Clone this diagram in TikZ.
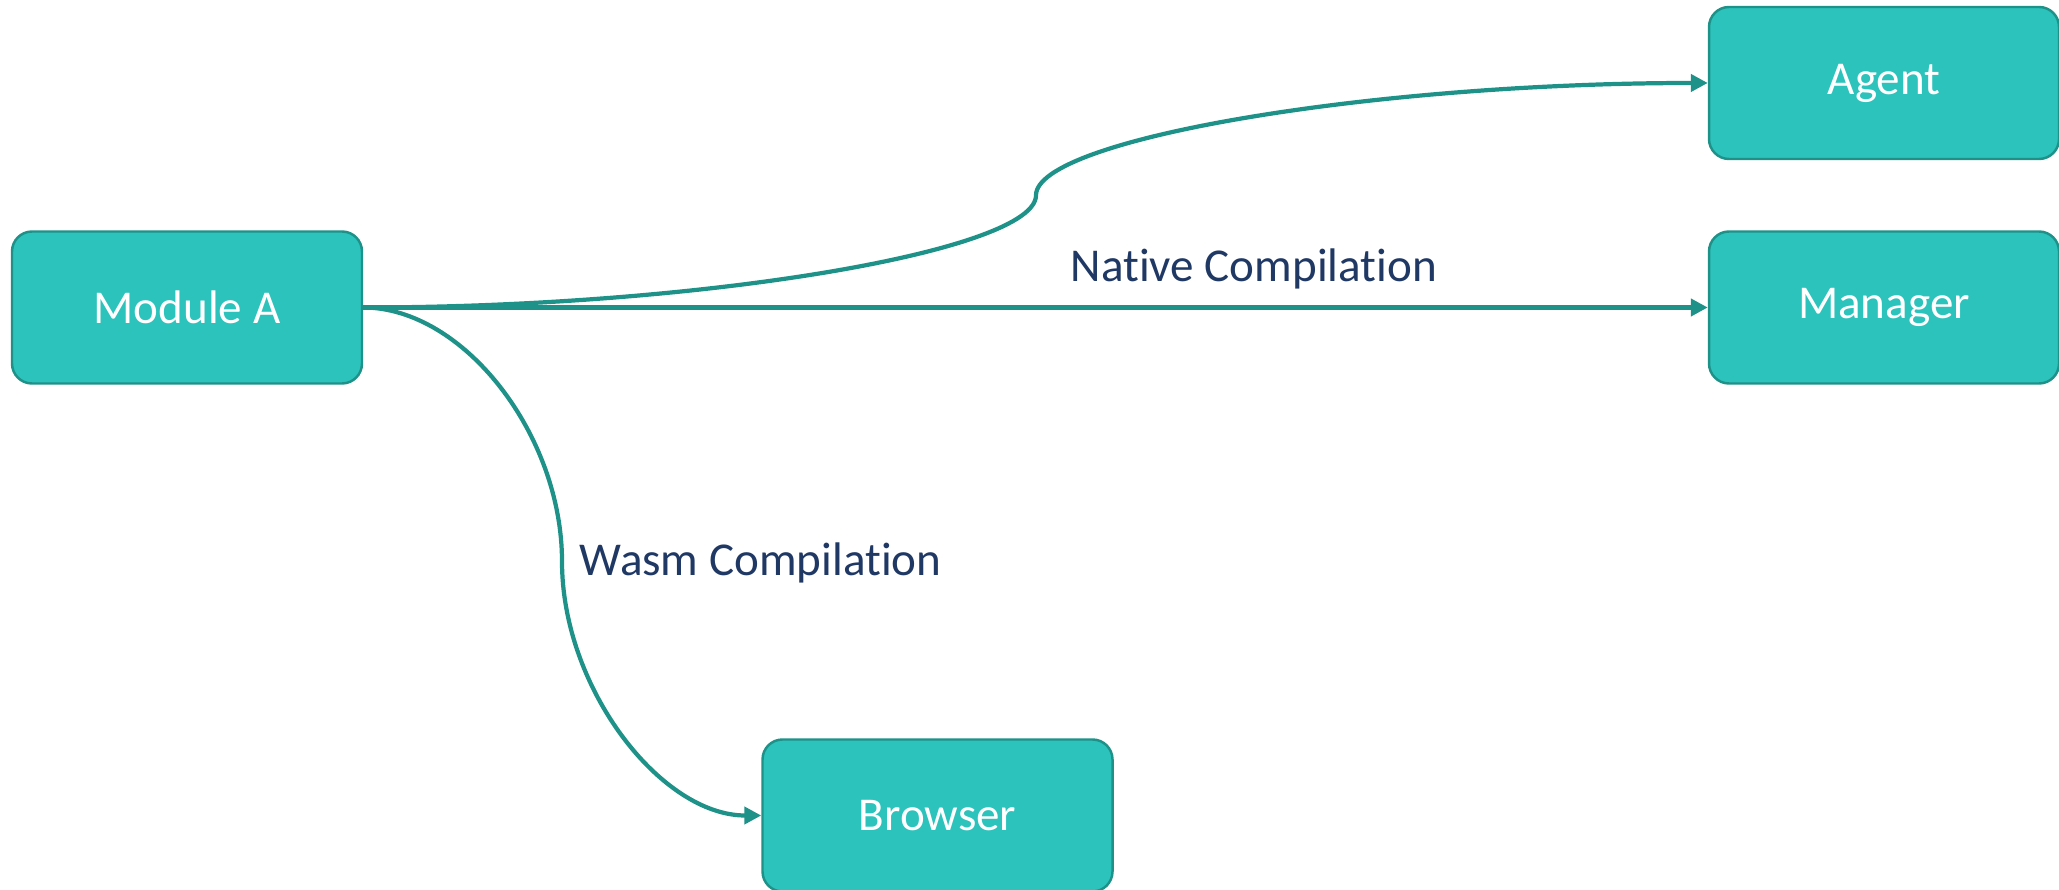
\documentclass[tikz,border=0pt]{standalone}
\usepackage{fontspec}
\setmainfont{Carlito}[RawFeature={-liga;-clig;-calt;-dlig}]
\usepackage{xcolor}
\usepackage{tikz}
\usetikzlibrary{
  arrows.meta,
  positioning
}
\definecolor{TealFill}{RGB}{43, 195, 188}
\definecolor{TealLine}{RGB}{30, 145, 137}
\definecolor{NavyText}{RGB}{31, 56, 100}
\tikzset{
    box/.style={rectangle, fill=TealFill, draw=TealLine, line width=0.7pt, rounded corners=0.2cm,
        minimum width=3.5cm, minimum height=1.52cm, inner sep=0pt, text=white,
        font=\fontsize{13.4}{16}\selectfont},
    conn/.style={draw=TealLine, line width=1.2pt, -{Triangle[length=0.17cm, width=0.17cm]}},
    edgelabel/.style={inner sep=0pt, text=NavyText, font=\fontsize{13.4}{16}\selectfont},
}

\begin{document}
\begin{tikzpicture}
            \useasboundingbox (0,0) rectangle (20.59,-8.90);
            \node[box] (modA) at (1.87,-3.075) {Module A};
            \node[box] (agent) at (18.84,-0.83) {Agent};
            \node[box] (manager) at (18.84,-3.075) {Manager};
            \node[box] (browser) at (9.375,-8.155) {Browser};
            \coordinate (aMid) at (10.36,-1.9525);
            \coordinate (bMid) at (5.62,-5.615);
            \draw[conn] (modA.east) .. controls +(3.37,0) and +(0,-0.56) .. (aMid)
                .. controls +(0,0.56) and +(-3.37,0) .. (agent.west);
            \draw[conn] (modA.east) -- (manager.west);
            \draw[conn] (modA.east) .. controls +(1.0,0) and +(0,1.27) .. (bMid)
                .. controls +(0,-1.27) and +(-1.0,0) .. (browser.west);
            \node[edgelabel, anchor=base west] (nativeLbl) at (10.70,-2.82) {Native Compilation};
            \node[edgelabel, anchor=base west] (wasmLbl) at (5.79,-5.76) {Wasm Compilation};
        \end{tikzpicture}
\end{document}
